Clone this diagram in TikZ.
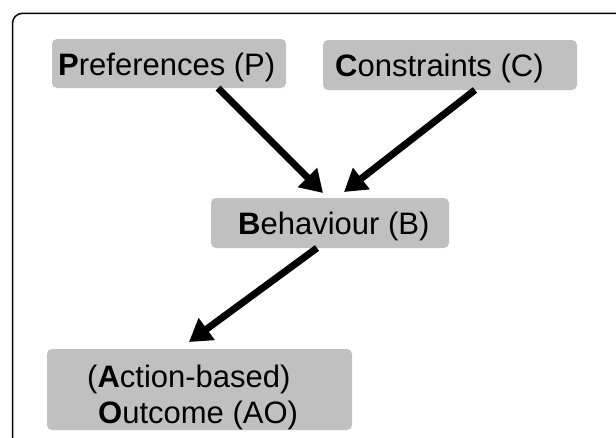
\documentclass[tikz,border=0pt]{standalone}
\usepackage{fontspec}
\setmainfont{Liberation Sans}
\usetikzlibrary{arrows.meta,calc}
\definecolor{boxgray}{HTML}{C0C0C0}
\tikzset{
  box/.style={fill=boxgray, rounded corners=5pt, inner sep=0pt, outer sep=0pt},
  lbl/.style={anchor=base west, inner sep=0pt, font=\fontsize{31}{36}\selectfont},
  arr/.style={line width=7pt, -{Triangle[length=22pt,width=26pt]}, shorten >=0pt}
}
\begin{document}
\begin{tikzpicture}[x=1pt,y=-1pt]
\useasboundingbox (0,0) rectangle (616,437);
\begin{scope}
\clip (0,0) rectangle (616,437);
\draw[line width=1.5pt, rounded corners=10pt] (12.5,13.3) rectangle (680,500);
\end{scope}
% boxes
\path[box] (52,39) rectangle (286,88) node[pos=0.5, inner sep=0pt] (pbox) {};
\path[box] (323,40) rectangle (577,90) node[pos=0.5, inner sep=0pt] (cbox) {};
\path[box] (211,198) rectangle (449,248) node[pos=0.5, inner sep=0pt] (bbox) {};
\path[box] (47,349) rectangle (352,430) node[pos=0.5, inner sep=0pt] (aobox) {};
\coordinate (pS) at (218,88);
\coordinate (cS) at (475,90);
\coordinate (bS) at (317,248);
\coordinate (bT1) at (323,193);
\coordinate (bT2) at (344,192);
\coordinate (aoT) at (189,342);
% labels
\node[lbl] (ptxt) at (58,75) {\textbf{P}references (P)};
\node[lbl] (ctxt) at (335,76) {\textbf{C}onstraints (C)};
\node[lbl] (btxt) at (238,234) {\textbf{B}ehaviour (B)};
\node[lbl] (ao1) at (87,387) {(\textbf{A}ction-based)};
\node[lbl] (ao2) at (98,423) {\textbf{O}utcome (AO)};
% arrows
\draw[arr] (pS) -- (bT1);
\draw[arr] (cS) -- (bT2);
\draw[arr] (bS) -- (aoT);
\end{tikzpicture}
\end{document}
